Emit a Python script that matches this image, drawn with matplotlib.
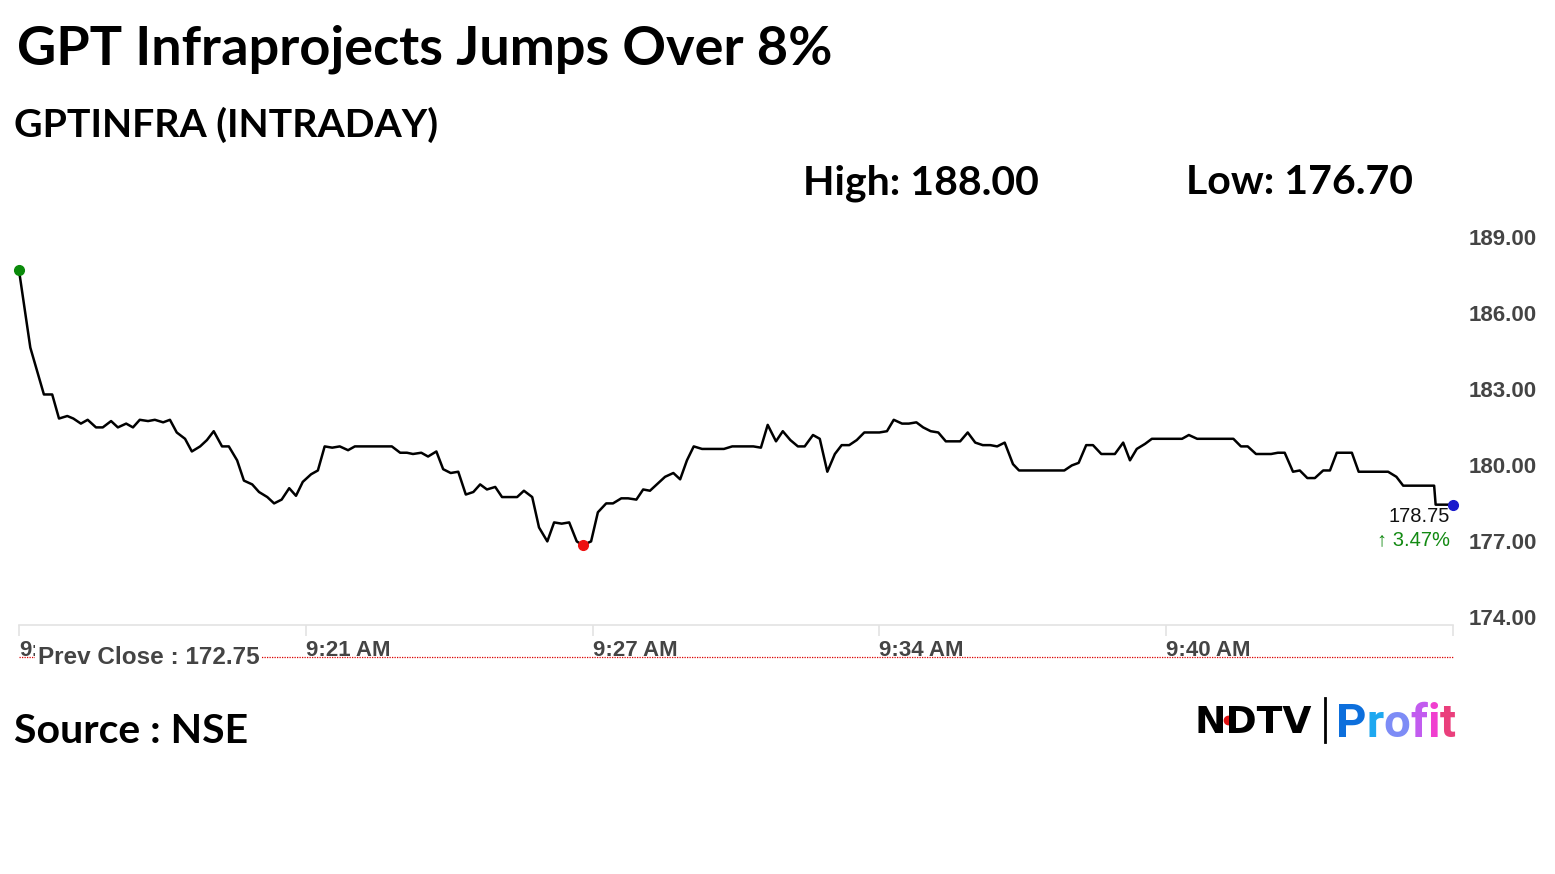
import numpy as np
import matplotlib
matplotlib.use("Agg")
import matplotlib.pyplot as plt
from matplotlib.lines import Line2D
from matplotlib.transforms import ScaledTranslation

# === 1. Datos (segundos desde las 9:15 AM, precio) ===
secs = [0, 15, 33, 44, 53, 64, 72, 82, 91, 102, 111, 122, 131, 142, 151, 160, 171, 180, 191, 200,
        209, 220, 229, 240, 249, 258, 269, 278, 289, 298, 309, 318, 329, 338, 348, 358, 367, 376, 387, 396,
        405, 415, 425, 436, 445, 494, 505, 514, 522, 533, 542, 553, 562, 572, 582, 592, 602, 611, 620, 631,
        640, 660, 669, 680, 689, 700, 709, 719, 729, 739, 747, 758, 767, 778, 787, 798, 807, 818, 827, 836,
        847, 856, 867, 876, 885, 894, 905, 934, 945, 973, 983, 992, 1003, 1012, 1022, 1032, 1041, 1052, 1061, 1071,
        1081, 1090, 1100, 1110, 1120, 1140, 1150, 1159, 1170, 1179, 1189, 1198, 1208, 1218, 1228, 1247, 1257, 1267, 1277, 1287,
        1296, 1306, 1317, 1325, 1385, 1395, 1404, 1414, 1423, 1434, 1452, 1463, 1472, 1481, 1492, 1501, 1541, 1550, 1561, 1609,
        1619, 1628, 1639, 1659, 1668, 1677, 1688, 1697, 1707, 1717, 1728, 1737, 1746, 1766, 1775, 1814, 1825, 1834, 1855, 1875,
        1877, 1900]
price = [188.00, 184.95, 183.10, 183.10, 182.15, 182.25, 182.15, 181.95, 182.10, 181.80,
         181.80, 182.05, 181.80, 181.95, 181.80, 182.10, 182.05, 182.10, 182.00, 182.10,
         181.60, 181.35, 180.85, 181.05, 181.30, 181.65, 181.05, 181.05, 180.50, 179.70,
         179.55, 179.25, 179.05, 178.80, 178.95, 179.40, 179.10, 179.65, 179.95, 180.10,
         181.05, 181.00, 181.05, 180.90, 181.05, 181.05, 180.80, 180.80, 180.75, 180.80,
         180.65, 180.85, 180.15, 180.00, 180.05, 179.15, 179.25, 179.55, 179.35, 179.45,
         179.05, 179.05, 179.30, 179.05, 177.85, 177.30, 178.05, 178.00, 178.05, 177.30,
         177.15, 177.30, 178.45, 178.80, 178.80, 179.00, 179.00, 178.95, 179.35, 179.30,
         179.60, 179.85, 180.00, 179.75, 180.50, 181.05, 180.95, 180.95, 181.05, 181.05,
         181.00, 181.90, 181.25, 181.65, 181.30, 181.05, 181.05, 181.50, 181.35, 180.05,
         180.75, 181.10, 181.10, 181.30, 181.60, 181.60, 181.65, 182.10, 181.95, 181.95,
         182.00, 181.80, 181.65, 181.60, 181.25, 181.25, 181.60, 181.20, 181.10, 181.10,
         181.05, 181.20, 180.35, 180.10, 180.10, 180.30, 180.40, 181.10, 181.10, 180.75,
         180.75, 181.20, 180.50, 180.95, 181.15, 181.35, 181.35, 181.50, 181.35, 181.35,
         181.05, 181.05, 180.75, 180.75, 180.80, 180.80, 180.05, 180.10, 179.80, 179.80,
         180.10, 180.10, 180.80, 180.80, 180.05, 180.05, 179.85, 179.50, 179.50, 179.50,
         178.75, 178.75]

prev_close = 172.75
day_high = 188.00
day_low = 176.70
last_price = 178.75
change_pct = 3.47

ytick_vals = [174, 177, 180, 183, 186, 189]
xtick_secs = [0, 380, 760, 1140, 1520, 1900]
# la primera etiqueta queda tapada por "Prev Close", solo se ve "9:"
xtick_labels = ["9:", "9:21 AM", "9:27 AM", "9:34 AM", "9:40 AM", ""]

# === 2. Figura ===
W, H = 1555, 874
fig = plt.figure(figsize=(W / 100, H / 100), dpi=100)
fig.patch.set_facecolor("white")


def px(x, y):
    return x / W, 1 - y / H


ax = fig.add_axes([19 / W, 1 - 625 / H, 1434 / W, 380 / H])
ax.set_xlim(0, 1900)
ax.set_ylim(174, 189)

for s in ["top", "left", "right"]:
    ax.spines[s].set_visible(False)
ax.spines["bottom"].set_color("#e3e3e3")
ax.spines["bottom"].set_linewidth(1.2)

tick_font = dict(family="Liberation Sans", weight="bold", size=16, color="#444444")

ax.set_xticks(xtick_secs)
ax.set_xticklabels(xtick_labels, ha="left", **tick_font)
ax.tick_params(axis="x", length=8, color="#e3e3e3", width=1.2, pad=3)

ax.yaxis.tick_right()
ax.set_yticks(ytick_vals)
ax.set_yticklabels([f"{v:.2f}" for v in ytick_vals], **tick_font)
ax.tick_params(axis="y", length=0, pad=11.5)
up = ScaledTranslation(0, 8 / 100, fig.dpi_scale_trans)
for lbl in ax.get_yticklabels():
    lbl.set_transform(lbl.get_transform() + up)

# === 3. Serie ===
ax.plot(secs, price, color="black", lw=1.8, clip_on=False, zorder=3)
i_min = int(np.argmin(price))
ax.plot(secs[0], price[0], "o", color="#0a8a0a", ms=7, clip_on=False, zorder=4)
ax.plot(secs[i_min], price[i_min], "o", color="#ee1111", ms=7, clip_on=False, zorder=4)
ax.plot(secs[-1], price[-1], "o", color="#1a1acc", ms=7, clip_on=False, zorder=4)

# cierre anterior (fuera del rango visible)
ax.plot([0, 1900], [prev_close, prev_close], color="#dd0000", lw=0.9,
        ls=(0, (1, 1)), clip_on=False, zorder=1)
fig.text(*px(38, 657), f"Prev Close : {prev_close:.2f}", ha="left", va="center",
         family="Liberation Sans", weight="bold", size=17.5, color="#444444",
         bbox=dict(facecolor="white", edgecolor="none", pad=2), zorder=5)

fig.text(*px(1450, 517), f"{last_price:.2f}", ha="right", va="center",
         family="Liberation Sans", size=14.5, color="#111111")
fig.text(*px(1450, 540), f"\u2191 {change_pct:.2f}%", ha="right", va="center",
         family=["Liberation Sans", "DejaVu Sans"], size=14.5, color="#138a13")

# === 4. Textos ===
head = dict(family="Lato", weight="bold", color="black")
fig.text(*px(17, 64), "GPT Infraprojects Jumps Over 8%", va="baseline", size=39, **head)
fig.text(*px(14, 137), "GPTINFRA (INTRADAY)", va="baseline", size=28.3, **head)
fig.text(*px(803, 194), f"High: {day_high:.2f}", va="baseline", size=29.5, **head)
fig.text(*px(1186, 194), f"Low: {day_low:.2f}", va="baseline", size=29.5, **head)
fig.text(*px(14, 743), "Source : NSE", va="baseline", size=29.5, **head)

# === 5. Logo ===
fig.text(*px(1195, 733), "NDTV", va="baseline", family="DejaVu Sans", weight="bold",
         size=27, color="black")
fig.add_artist(Line2D([px(1228, 0)[0]], [px(0, 720)[1]], marker="o", ms=6,
                      color="#e01010", lw=0))
fig.add_artist(Line2D([px(1325, 0)[0]] * 2, [px(0, 698)[1], px(0, 742)[1]],
                      color="black", lw=2))

renderer = fig.canvas.get_renderer()
profit_colors = ["#0d6fdc", "#1ea8f0", "#7d8cf6", "#c25cef", "#f03fcf", "#ea3f7c"]
x0 = 1336
for ch, c in zip("Profit", profit_colors):
    t = fig.text(*px(x0, 737), ch, va="baseline", family="Roboto", weight="bold",
                 size=34, color=c)
    bb = t.get_window_extent(renderer)
    x0 = bb.x1

fig.savefig("out.png", dpi=100, facecolor="white")
